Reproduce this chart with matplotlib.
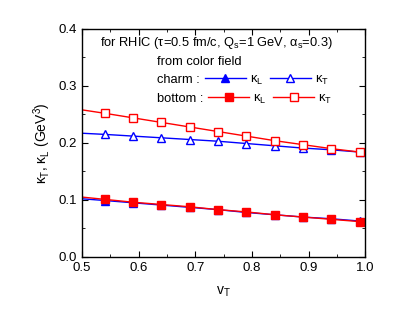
import matplotlib.pyplot as plt
from matplotlib.lines import Line2D
from matplotlib.ticker import MultipleLocator

# данные: v_T и каппы (ГэВ^3)
vT = [0.50, 0.54, 0.59, 0.64, 0.69, 0.74, 0.79, 0.84, 0.89, 0.94, 0.99]
charm_kL = [0.102, 0.099, 0.095, 0.091, 0.087, 0.083, 0.078, 0.074, 0.070, 0.067, 0.063]
charm_kT = [0.217, 0.215, 0.212, 0.209, 0.206, 0.203, 0.199, 0.195, 0.191, 0.188, 0.184]
bottom_kL = [0.105, 0.101, 0.096, 0.092, 0.088, 0.083, 0.079, 0.074, 0.070, 0.066, 0.062]
bottom_kT = [0.258, 0.252, 0.244, 0.236, 0.228, 0.220, 0.212, 0.204, 0.197, 0.190, 0.184]

plt.rcParams['font.family'] = ['Liberation Sans', 'DejaVu Sans']
plt.rcParams['mathtext.fontset'] = 'custom'
plt.rcParams['mathtext.rm'] = 'Liberation Sans'
plt.rcParams['mathtext.it'] = 'Liberation Sans'

fig = plt.figure(figsize=(4.15, 3.18), dpi=100)
ax = fig.add_axes([0.198, 0.192, 0.682, 0.717])

mk = dict(markevery=slice(1, None), markersize=5.5, lw=1.0)
ax.plot(vT, charm_kL, '-^', color='blue', mfc='blue', **mk)
ax.plot(vT, charm_kT, '-^', color='blue', mfc='white', **mk)
ax.plot(vT, bottom_kL, '-s', color='red', mfc='red', **mk)
ax.plot(vT, bottom_kT, '-s', color='red', mfc='white', **mk)

ax.set_xlim(0.5, 1.0)
ax.set_ylim(0.0, 0.4)
ax.xaxis.set_major_locator(MultipleLocator(0.1))
ax.xaxis.set_minor_locator(MultipleLocator(0.05))
ax.yaxis.set_major_locator(MultipleLocator(0.1))
ax.yaxis.set_minor_locator(MultipleLocator(0.05))
ax.tick_params(which='both', direction='in', top=True, right=True, labelsize=9.5)
ax.tick_params(which='major', length=4)
ax.tick_params(which='minor', length=2.5)
for s in ax.spines.values():
    s.set_linewidth(1.0)

ax.set_xlabel(r'v$_T$', fontsize=10, labelpad=8)
ax.set_ylabel(r'$\kappa_T$, $\kappa_L$ (GeV$^3$)', fontsize=10, labelpad=4)

fs = 9.3
ax.text(0.064, 0.939, r'for RHIC ($\tau$=0.5 fm/c, Q$_s$=1 GeV, $\alpha_s$=0.3)',
        transform=ax.transAxes, fontsize=fs, va='center')
ax.text(0.265, 0.855, 'from color field', transform=ax.transAxes, fontsize=fs, va='center')
ax.text(0.265, 0.776, 'charm :', transform=ax.transAxes, fontsize=fs, va='center')
ax.text(0.265, 0.693, 'bottom :', transform=ax.transAxes, fontsize=fs, va='center')

# легенда
lc = Line2D([], [], color='blue', marker='^', mfc='blue', markersize=5.5, lw=1.0)
tc = Line2D([], [], color='blue', marker='^', mfc='white', markersize=5.5, lw=1.0)
lb = Line2D([], [], color='red', marker='s', mfc='red', markersize=5.5, lw=1.0)
tb = Line2D([], [], color='red', marker='s', mfc='white', markersize=5.5, lw=1.0)
lk = dict(ncol=2, frameon=False, loc='center left', fontsize=fs, handlelength=3.2,
          handletextpad=0.3, columnspacing=0.5, borderpad=0, borderaxespad=0)
leg1 = ax.legend([lc, tc], [r'$\kappa_L$', r'$\kappa_T$'], bbox_to_anchor=(0.433, 0.776), **lk)
ax.add_artist(leg1)
ax.legend([lb, tb], [r'$\kappa_L$', r'$\kappa_T$'], bbox_to_anchor=(0.445, 0.693), **lk)

fig.savefig('out.png', dpi=100)
